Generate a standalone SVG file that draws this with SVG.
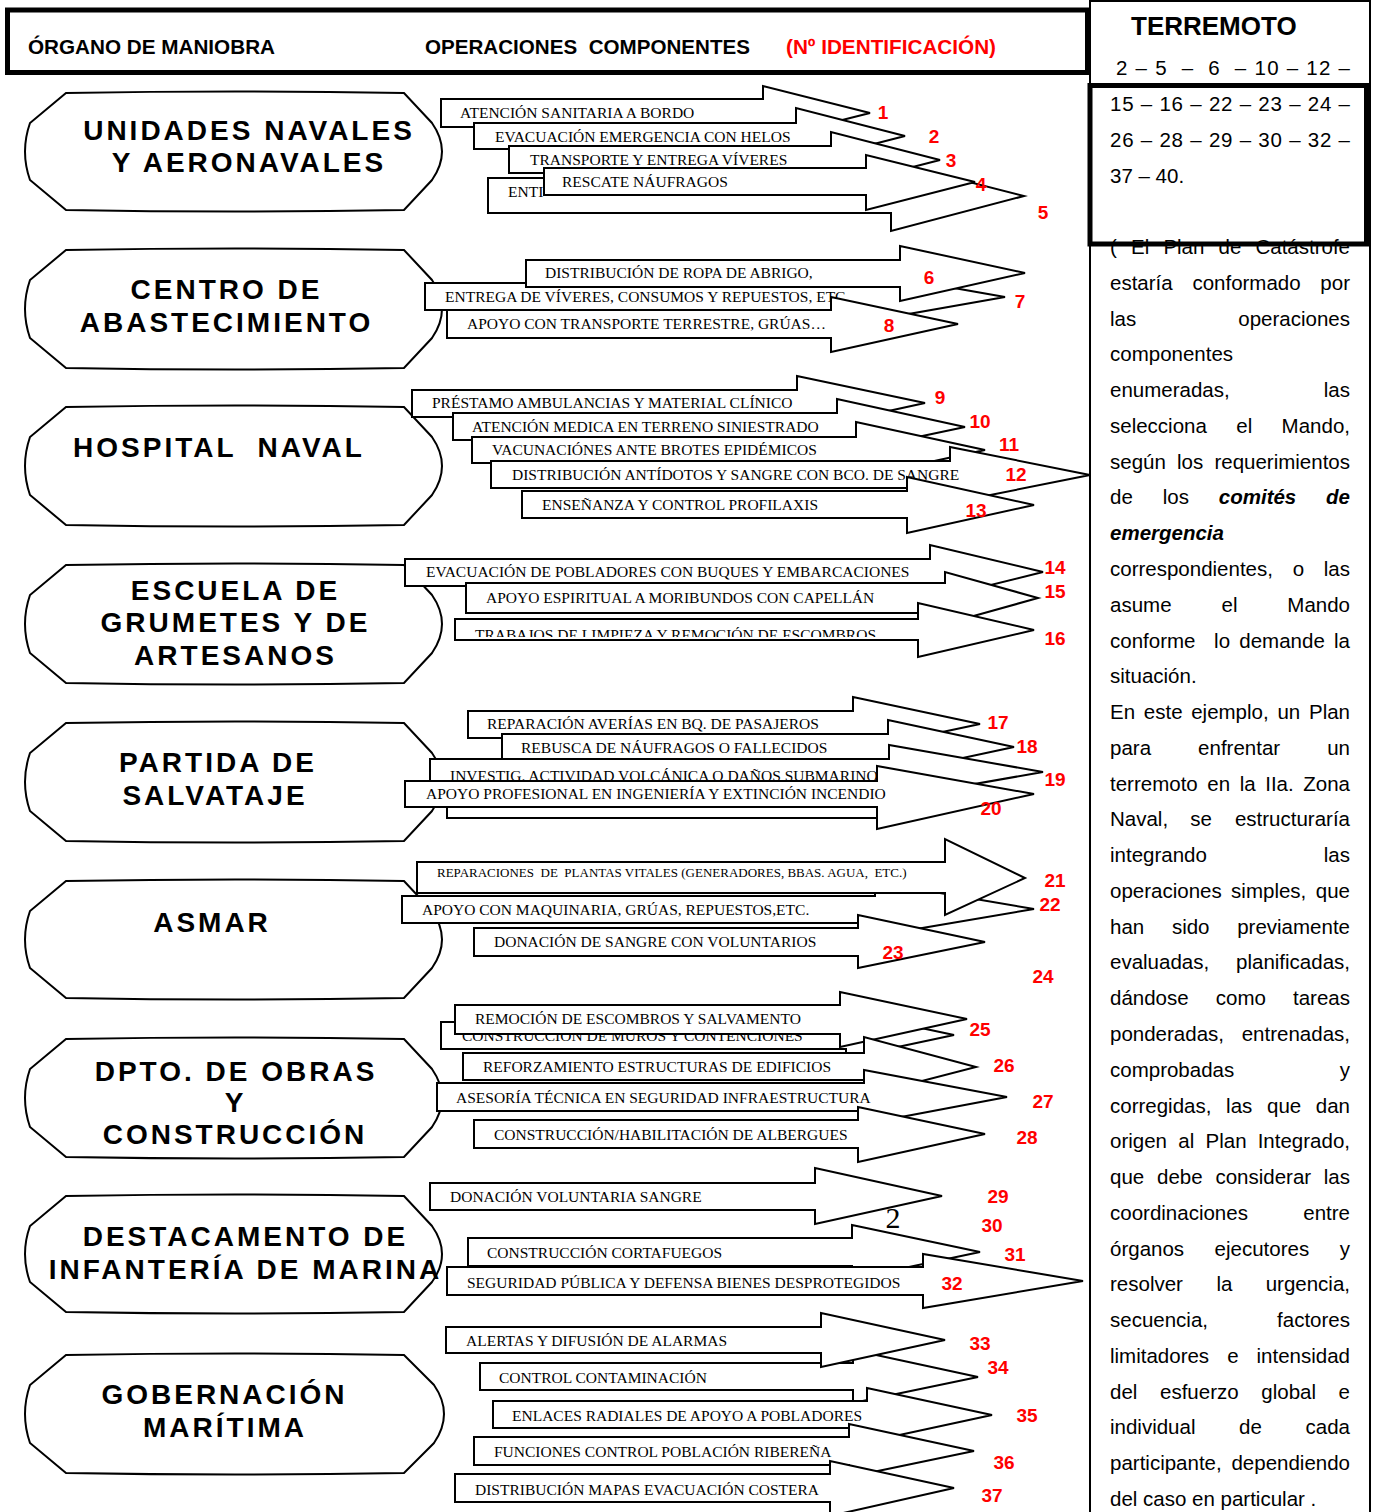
<svg xmlns="http://www.w3.org/2000/svg" width="1378" height="1512" viewBox="0 0 1378 1512">
<style>
.hd{font-family:"Liberation Sans",Arial,sans-serif;font-weight:bold;font-size:20px}
.nd path{fill:#fff;stroke:#000;stroke-width:2}
.nt{font-family:"Liberation Sans",Arial,sans-serif;font-weight:bold;font-size:28px;letter-spacing:3px;text-anchor:middle}
.ar polygon{fill:#fff;stroke:#000;stroke-width:2;stroke-linejoin:miter}
.at{font-family:"Liberation Serif","Times New Roman",serif;font-size:15.5px}
.num{font-family:"Liberation Sans",Arial,sans-serif;font-weight:bold;font-size:19px;fill:#f00;text-anchor:middle}
.bt{font-family:"Liberation Sans",Arial,sans-serif;font-size:20.5px}
.e{text-anchor:end}
.bi{font-weight:bold;font-style:italic}
</style>
<defs>
<clipPath id="c16"><rect x="455" y="619" width="463" height="18"/></clipPath>
</defs>
<rect width="1378" height="1512" fill="#fff"/>

<!-- header -->
<g id="header">
<rect x="7.5" y="10" width="1080" height="62.5" fill="#fff" stroke="#000" stroke-width="5"/>
<text class="hd" x="28" y="54" textLength="247" lengthAdjust="spacingAndGlyphs">ÓRGANO DE MANIOBRA</text>
<text class="hd" x="425" y="54" textLength="325" lengthAdjust="spacingAndGlyphs" xml:space="preserve" style="white-space:pre">OPERACIONES  COMPONENTES</text>
<text class="hd" x="786" y="54" fill="#f00" textLength="210" lengthAdjust="spacingAndGlyphs">(Nº IDENTIFICACIÓN)</text>
</g>

<!-- nodes -->
<g id="n1" class="nd"><path d="M66,93 Q235,90 404,93 L432,123 Q452,151.5 432,180 L404,210 Q235,213 66,210 L30,180 Q20,151.5 30,123 Z"/>
<text class="nt" x="249" y="140">UNIDADES NAVALES</text><text class="nt" x="249" y="172">Y AERONAVALES</text></g>
<g id="n2" class="nd"><path d="M66,250 Q235,247 404,250 L432,280 Q452,309 432,338 L404,368 Q235,371 66,368 L30,338 Q20,309 30,280 Z"/>
<text class="nt" x="226.5" y="299">CENTRO DE</text><text class="nt" x="226.5" y="332">ABASTECIMIENTO</text></g>
<g id="n3" class="nd"><path d="M66,407 Q235,404 404,407 L432,437 Q452,466 432,495 L404,525 Q235,528 66,525 L30,495 Q20,466 30,437 Z"/>
<text class="nt" x="219" y="457" xml:space="preserve" style="white-space:pre">HOSPITAL  NAVAL</text></g>
<g id="n4" class="nd"><path d="M66,565 Q235,562 404,565 L432,595 Q452,624 432,653 L404,683 Q235,686 66,683 L30,653 Q20,624 30,595 Z"/>
<text class="nt" x="235.5" y="600">ESCUELA DE</text><text class="nt" x="235.5" y="632">GRUMETES Y DE</text><text class="nt" x="235.5" y="665">ARTESANOS</text></g>
<g id="n5" class="nd"><path d="M66,723 Q235,720 404,723 L432,753 Q452,782 432,811 L404,841 Q235,844 66,841 L30,811 Q20,782 30,753 Z"/>
<text class="nt" x="218" y="772">PARTIDA DE</text><text class="nt" x="215" y="805">SALVATAJE</text></g>
<g id="n6" class="nd"><path d="M66,881 Q235,878 404,881 L432,911 Q452,939.5 432,968 L404,998 Q235,1001 66,998 L30,968 Q20,939.5 30,911 Z"/>
<text class="nt" x="212" y="932">ASMAR</text></g>
<g id="n7" class="nd"><path d="M66,1039 Q235,1036 404,1039 L432,1069 Q452,1098 432,1127 L404,1157 Q235,1160 66,1157 L30,1127 Q20,1098 30,1069 Z"/>
<text class="nt" x="236" y="1081">DPTO. DE OBRAS</text><text class="nt" x="235.5" y="1112">Y</text><text class="nt" x="235" y="1144">CONSTRUCCIÓN</text></g>
<g id="n8" class="nd"><path d="M66,1196 Q235,1193 404,1196 L432,1226 Q452,1254 432,1282 L404,1312 Q235,1315 66,1312 L30,1282 Q20,1254 30,1226 Z"/>
<text class="nt" x="245.5" y="1246">DESTACAMENTO DE</text><text class="nt" x="245.5" y="1279">INFANTERÍA DE MARINA</text></g>
<g id="n9" class="nd"><path d="M66,1355 Q235,1352 404,1355 L434,1385 Q454,1414 434,1443 L404,1473 Q235,1476 66,1473 L30,1443 Q20,1414 30,1385 Z"/>
<text class="nt" x="224.5" y="1404">GOBERNACIÓN</text><text class="nt" x="225" y="1437">MARÍTIMA</text></g>

<!-- connectors (block arrows) -->
<g id="connectors" class="ar">
<g id="a1"><polygon points="441,99 763,99 763,86 870,113 763,140 763,127 441,127"/><text class="at" x="460" y="118">ATENCIÓN SANITARIA A BORDO</text></g>
<g id="a2"><polygon points="474,123 796,123 796,108 905,136 796,164 796,149 474,149"/><text class="at" x="495" y="142">EVACUACIÓN EMERGENCIA CON HELOS</text></g>
<g id="a3"><polygon points="509,146 831,146 831,132 940,160 831,188 831,173 509,173"/><text class="at" x="530" y="165">TRANSPORTE Y ENTREGA VÍVERES</text></g>
<g id="a5"><polygon points="488,178 891,178 891,162 1024,196 891,231 891,213 488,213"/><text class="at" x="508" y="197">ENTI</text></g>
<g id="a4"><polygon points="544,168 866,168 866,155 975,182 866,210 866,195 544,195"/><text class="at" x="562" y="187">RESCATE NÁUFRAGOS</text></g>

<g id="a7"><polygon points="425,283 880,283 880,275 1005,297 880,319 880,310 425,310"/><text class="at" x="445" y="302">ENTREGA DE VÍVERES, CONSUMOS Y REPUESTOS, ETC</text></g>
<g id="a6"><polygon points="526,260 900,260 900,246 1025,273 900,301 900,287 526,287"/><text class="at" x="545" y="278">DISTRIBUCIÓN DE ROPA DE ABRIGO,</text></g>
<g id="a8"><polygon points="447,310 831,310 831,297 958,324 831,352 831,338 447,338"/><text class="at" x="467" y="329">APOYO CON TRANSPORTE TERRESTRE, GRÚAS…</text></g>

<g id="a9"><polygon points="412,390 797,390 797,376 925,403 797,431 797,417 412,417"/><text class="at" x="432" y="408">PRÉSTAMO AMBULANCIAS Y MATERIAL CLÍNICO</text></g>
<g id="a10"><polygon points="453,413 837,413 837,399 965,427 837,454 837,440 453,440"/><text class="at" x="472" y="432">ATENCIÓN MEDICA EN TERRENO SINIESTRADO</text></g>
<g id="a11"><polygon points="472,437 856,437 856,422 985,450 856,478 856,463 472,463"/><text class="at" x="492" y="455">VACUNACIÓNES ANTE BROTES EPIDÉMICOS</text></g>
<g id="a12"><polygon points="491,461 950,461 950,447 1090,475 950,503 950,488 491,488"/><text class="at" x="512" y="480">DISTRIBUCIÓN ANTÍDOTOS Y SANGRE CON BCO. DE SANGRE</text></g>
<g id="a13"><polygon points="522,491 907,491 907,477 1034,505 907,533 907,518 522,518"/><text class="at" x="542" y="510">ENSEÑANZA Y CONTROL PROFILAXIS</text></g>

<g id="a14"><polygon points="405,559 930,559 930,545 1043,572 930,600 930,586 405,586"/><text class="at" x="426" y="577">EVACUACIÓN DE POBLADORES CON BUQUES Y EMBARCACIONES</text></g>
<g id="a15"><polygon points="466,583 945,583 945,572 1038,598 945,624 945,613 466,613"/><text class="at" x="486" y="603">APOYO ESPIRITUAL A MORIBUNDOS CON CAPELLÁN</text></g>
<g id="a16"><polygon points="455,619 918,619 918,603 1034,630 918,657 918,640 455,640"/><text class="at" x="475" y="640" clip-path="url(#c16)">TRABAJOS DE LIMPIEZA Y REMOCIÓN DE ESCOMBROS</text></g>

<g id="a17"><polygon points="468,711 853,711 853,697 980,724 853,751 853,738 468,738"/><text class="at" x="487" y="729">REPARACIÓN AVERÍAS EN BQ. DE PASAJEROS</text></g>
<g id="a18"><polygon points="502,734 888,734 888,720 1014,747 888,774 888,759 502,759"/><text class="at" x="521" y="753">REBUSCA DE NÁUFRAGOS O FALLECIDOS</text></g>
<g id="a19"><polygon points="430,759 889,759 889,745 1043,772 889,799 889,785 430,785"/><text class="at" x="450" y="781">INVESTIG. ACTIVIDAD VOLCÁNICA O DAÑOS SUBMARINOS</text></g>
<g id="a19b"><polygon points="447,781 877,781 877,818 447,818"/></g>
<g id="a20"><polygon points="405,781 877,781 877,766 1034,794 877,829 877,807 405,807"/><text class="at" x="426" y="799">APOYO PROFESIONAL EN INGENIERÍA Y EXTINCIÓN INCENDIO</text></g>

<g id="a22"><polygon points="402,896 875,896 875,882 1034,909 875,936 875,923 402,923"/><text class="at" x="422" y="915">APOYO CON MAQUINARIA, GRÚAS, REPUESTOS,ETC.</text></g>
<g id="a21"><polygon points="417,862 945,862 945,839 1025,878 945,915 945,893 417,893"/><text class="at" x="437" y="877" style="font-size:13px;white-space:pre" xml:space="preserve">REPARACIONES  DE  PLANTAS VITALES (GENERADORES, BBAS. AGUA,  ETC.)</text></g>
<g id="a23"><polygon points="474,928 858,928 858,915 985,942 858,968 858,956 474,956"/><text class="at" x="494" y="947">DONACIÓN DE SANGRE CON VOLUNTARIOS</text></g>

<g id="a25b"><polygon points="441,1022 846,1022 846,1012 954,1035 846,1058 846,1049 441,1049"/><text class="at" x="462" y="1041">CONSTRUCCIÓN DE MUROS Y CONTENCIONES</text></g>
<g id="a25"><polygon points="455,1005 840,1005 840,992 967,1019 840,1047 840,1034 455,1034"/><text class="at" x="475" y="1024">REMOCIÓN DE ESCOMBROS Y SALVAMENTO</text></g>
<g id="a26"><polygon points="463,1053 864,1053 864,1037 976,1067 864,1096 864,1080 463,1080"/><text class="at" x="483" y="1072">REFORZAMIENTO ESTRUCTURAS DE EDIFICIOS</text></g>
<g id="a27"><polygon points="437,1083 864,1083 864,1070 1007,1097 864,1124 864,1111 437,1111"/><text class="at" x="456" y="1103">ASESORÍA TÉCNICA EN SEGURIDAD INFRAESTRUCTURA</text></g>
<g id="a28"><polygon points="474,1120 858,1120 858,1107 985,1134 858,1162 858,1148 474,1148"/><text class="at" x="494" y="1140">CONSTRUCCIÓN/HABILITACIÓN DE ALBERGUES</text></g>

<g id="a29"><polygon points="430,1183 815,1183 815,1168 942,1196 815,1224 815,1210 430,1210"/><text class="at" x="450" y="1202">DONACIÓN VOLUNTARIA SANGRE</text></g>
<g id="a31"><polygon points="468,1238 852,1238 852,1225 980,1252 852,1279 852,1266 468,1266"/><text class="at" x="487" y="1258">CONSTRUCCIÓN CORTAFUEGOS</text></g>
<g id="a32"><polygon points="447,1267 923,1267 923,1254 1083,1281 923,1308 923,1295 447,1295"/><text class="at" x="467" y="1288">SEGURIDAD PÚBLICA Y DEFENSA BIENES DESPROTEGIDOS</text></g>

<g id="a34"><polygon points="480,1363 853,1363 853,1350 978,1377 853,1403 853,1390 480,1390"/><text class="at" x="499" y="1383">CONTROL CONTAMINACIÓN</text></g>
<g id="a33"><polygon points="446,1327 821,1327 821,1313 945,1340 821,1367 821,1353 446,1353"/><text class="at" x="466" y="1346">ALERTAS Y DIFUSIÓN DE ALARMAS</text></g>
<g id="a35"><polygon points="493,1401 867,1401 867,1388 992,1415 867,1442 867,1428 493,1428"/><text class="at" x="512" y="1421">ENLACES RADIALES DE APOYO A POBLADORES</text></g>
<g id="a36"><polygon points="474,1437 849,1437 849,1424 974,1451 849,1477 849,1465 474,1465"/><text class="at" x="494" y="1457">FUNCIONES CONTROL POBLACIÓN RIBEREÑA</text></g>
<g id="a37"><polygon points="455,1474 830,1474 830,1461 954,1488 830,1516 830,1502 455,1502"/><text class="at" x="475" y="1495">DISTRIBUCIÓN MAPAS EVACUACIÓN COSTERA</text></g>
</g>

<text x="893" y="1228" text-anchor="middle" style="font-family:'Liberation Serif','Times New Roman',serif;font-size:30px">2</text>

<!-- identification numbers -->
<g id="numbers" class="num">
<text x="883" y="119">1</text><text x="934" y="143">2</text><text x="951" y="167">3</text><text x="981" y="191">4</text><text x="1043" y="219">5</text>
<text x="929" y="284">6</text><text x="1020" y="308">7</text><text x="889" y="332">8</text>
<text x="940" y="404">9</text><text x="980" y="428">10</text><text x="1009" y="451">11</text><text x="1016" y="481">12</text><text x="976" y="517">13</text>
<text x="1055" y="574">14</text><text x="1055" y="598">15</text><text x="1055" y="645">16</text>
<text x="998" y="729">17</text><text x="1027" y="753">18</text><text x="1055" y="786">19</text><text x="991" y="815">20</text>
<text x="1055" y="887">21</text><text x="1050" y="911">22</text><text x="893" y="959">23</text><text x="1043" y="983">24</text>
<text x="980" y="1036">25</text><text x="1004" y="1072">26</text><text x="1043" y="1108">27</text><text x="1027" y="1144">28</text>
<text x="998" y="1203">29</text><text x="992" y="1232">30</text><text x="1015" y="1261">31</text><text x="952" y="1290">32</text>
<text x="980" y="1350">33</text><text x="998" y="1374">34</text><text x="1027" y="1422">35</text><text x="1004" y="1469">36</text><text x="992" y="1502">37</text>
</g>

<!-- right column -->
<g id="side">
<rect x="1090" y="1" width="280" height="1530" fill="none" stroke="#000" stroke-width="2"/>
<text x="1131" y="35" style="font-family:'Liberation Sans',Arial,sans-serif;font-weight:bold;font-size:26px">TERREMOTO</text>
<g class="bt">
<text x="1116" y="75" textLength="234" lengthAdjust="spacing" xml:space="preserve" style="white-space:pre">2 – 5  –  6  – 10 – 12 –</text>
<text x="1110" y="111" textLength="240" lengthAdjust="spacing">15 – 16 – 22 – 23 – 24 –</text>
<text x="1110" y="147" textLength="240" lengthAdjust="spacing">26 – 28 – 29 – 30 – 32 –</text>
<text x="1110" y="183">37 – 40.</text>

<text y="254"><tspan x="1110">(</tspan><tspan x="1131">El</tspan><tspan x="1163.4">Plan</tspan><tspan x="1218.6">de</tspan></text><text class="e" x="1350" y="254">Catástrofe</text>
<text y="289.8"><tspan x="1110">estaría</tspan><tspan x="1192.4">conformado</tspan></text><text class="e" x="1350" y="289.8">por</text>
<text x="1110" y="325.5">las</text><text class="e" x="1350" y="325.5">operaciones</text>
<text x="1110" y="361.3">componentes</text>
<text x="1110" y="397.1">enumeradas,</text><text class="e" x="1350" y="397.1">las</text>
<text y="432.9"><tspan x="1110">selecciona</tspan><tspan x="1236.3">el</tspan></text><text class="e" x="1350" y="432.9">Mando,</text>
<text y="468.6"><tspan x="1110">según</tspan><tspan x="1177">los</tspan></text><text class="e" x="1350" y="468.6">requerimientos</text>
<text y="504.4"><tspan x="1110">de</tspan><tspan x="1162.7">los</tspan><tspan x="1218.8" class="bi">comités</tspan></text><text class="e bi" x="1350" y="504.4">de</text>
<text class="bi" x="1110" y="540.2">emergencia</text>
<text y="575.9"><tspan x="1110">correspondientes,</tspan><tspan x="1292.7">o</tspan></text><text class="e" x="1350" y="575.9">las</text>
<text y="611.7"><tspan x="1110">asume</tspan><tspan x="1221.5">el</tspan></text><text class="e" x="1350" y="611.7">Mando</text>
<text y="647.5"><tspan x="1110">conforme</tspan><tspan x="1214.1">lo</tspan><tspan x="1239.3">demande</tspan></text><text class="e" x="1350" y="647.5">la</text>
<text x="1110" y="683.2">situación.</text>
<text y="719"><tspan x="1110">En</tspan><tspan x="1143.8">este</tspan><tspan x="1191.2">ejemplo,</tspan><tspan x="1277.4">un</tspan></text><text class="e" x="1350" y="719">Plan</text>
<text y="754.8"><tspan x="1110">para</tspan><tspan x="1198.1">enfrentar</tspan></text><text class="e" x="1350" y="754.8">un</text>
<text y="790.6"><tspan x="1110">terremoto</tspan><tspan x="1207.3">en</tspan><tspan x="1239.7">la</tspan><tspan x="1265.2">IIa.</tspan></text><text class="e" x="1350" y="790.6">Zona</text>
<text y="826.3"><tspan x="1110">Naval,</tspan><tspan x="1190.3">se</tspan></text><text class="e" x="1350" y="826.3">estructuraría</text>
<text x="1110" y="862.1">integrando</text><text class="e" x="1350" y="862.1">las</text>
<text y="897.9"><tspan x="1110">operaciones</tspan><tspan x="1231.1">simples,</tspan></text><text class="e" x="1350" y="897.9">que</text>
<text y="933.6"><tspan x="1110">han</tspan><tspan x="1171.9">sido</tspan></text><text class="e" x="1350" y="933.6">previamente</text>
<text x="1110" y="969.4">evaluadas,</text><text class="e" x="1350" y="969.4">planificadas,</text>
<text y="1005.2"><tspan x="1110">dándose</tspan><tspan x="1215.8">como</tspan></text><text class="e" x="1350" y="1005.2">tareas</text>
<text x="1110" y="1040.9">ponderadas,</text><text class="e" x="1350" y="1040.9">entrenadas,</text>
<text x="1110" y="1076.7">comprobadas</text><text class="e" x="1350" y="1076.7">y</text>
<text y="1112.5"><tspan x="1110">corregidas,</tspan><tspan x="1226.1">las</tspan><tspan x="1267">que</tspan></text><text class="e" x="1350" y="1112.5">dan</text>
<text y="1148.3"><tspan x="1110">origen</tspan><tspan x="1178.3">al</tspan><tspan x="1205.5">Plan</tspan></text><text class="e" x="1350" y="1148.3">Integrado,</text>
<text y="1184"><tspan x="1110">que</tspan><tspan x="1157">debe</tspan><tspan x="1215.4">considerar</tspan></text><text class="e" x="1350" y="1184">las</text>
<text x="1110" y="1219.8">coordinaciones</text><text class="e" x="1350" y="1219.8">entre</text>
<text y="1255.6"><tspan x="1110">órganos</tspan><tspan x="1214.6">ejecutores</tspan></text><text class="e" x="1350" y="1255.6">y</text>
<text y="1291.3"><tspan x="1110">resolver</tspan><tspan x="1216.4">la</tspan></text><text class="e" x="1350" y="1291.3">urgencia,</text>
<text x="1110" y="1327.1">secuencia,</text><text class="e" x="1350" y="1327.1">factores</text>
<text y="1362.9"><tspan x="1110">limitadores</tspan><tspan x="1227.2">e</tspan></text><text class="e" x="1350" y="1362.9">intensidad</text>
<text y="1398.6"><tspan x="1110">del</tspan><tspan x="1160">esfuerzo</tspan><tspan x="1261.3">global</tspan></text><text class="e" x="1350" y="1398.6">e</text>
<text y="1434.4"><tspan x="1110">individual</tspan><tspan x="1239.1">de</tspan></text><text class="e" x="1350" y="1434.4">cada</text>
<text x="1110" y="1470.2">participante,</text><text class="e" x="1350" y="1470.2">dependiendo</text>
<text x="1110" y="1506">del caso en particular .</text>
</g>
<rect x="1090" y="85.5" width="276.5" height="158.5" fill="none" stroke="#000" stroke-width="5"/>
</g>
</svg>
